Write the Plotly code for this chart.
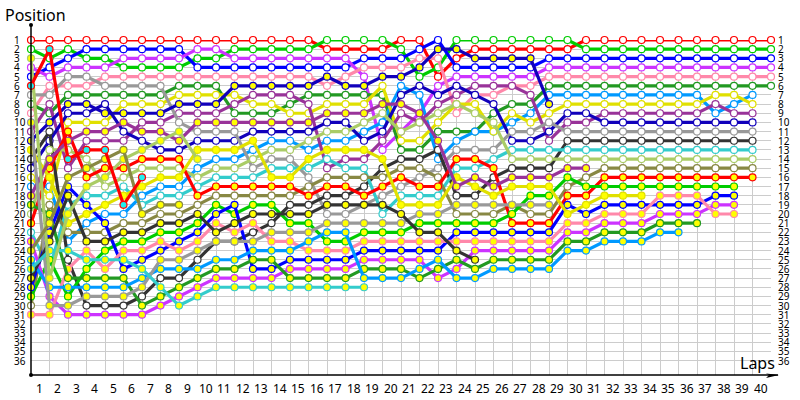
import plotly.graph_objects as go

POSITIONS = list(range(1, 37))
LAP_LABELS = list(range(1, 41))

R = [1,1,1,1,1,1,1,1,1,1,1,1,1,1,1,1,2,2,2,2,1,1,5,3,2,2,2,2,2,2,1,1,1,1,1,1,1,1,1,1,1]
G = [2,3,2,3,3,4,4,4,4,3,3,2,2,2,2,2,1,1,1,1,2,5,4,1,1,1,1,1,1,1,2,2,2,2,2,2,2,2,2,2,2]
B = [5,4,3,2,2,2,2,2,2,4,4,4,4,4,4,4,4,4,3,3,3,2,1,4,4,4,4,4,3,3,3,3,3,3,3,3,3,3,3,3,3]
V = [4,5,4,4,4,3,3,3,3,2,2,3,3,3,3,3,3,3,5,13,11,9,6,5,5,5,5,5,4,4,4,4,4,4,4,4,4,4,4,4,4]
P = [9,6,6,6,5,5,5,5,5,5,5,5,5,5,5,5,6,5,4,4,4,3,3,9,7,7,6,6,5,5,5,5,5,5,5,5,5,5,5,5,5]
F = [8,9,7,7,7,7,7,7,6,6,6,9,9,9,8,7,7,7,7,7,13,13,11,11,11,9,8,8,6,6,6,6,6,6,6,6,6,6,6,6,6]
A = [17,17,23,21,20,20,18,17,17,15,14,14,13,12,12,13,12,12,11,10,6,7,14,12,11,11,10,9,7,7,7,7,7,7,7,7,7,9,8,7]
O = [16,18,10,10,10,8,8,8,7,7,7,7,8,8,9,9,8,8,8,6,12,12,10,8,8,11,9,10,9,8,8,8,8,8,8,8,8,7,7,8]
U = [11,8,15,12,12,12,10,10,9,9,9,8,7,7,7,8,15,14,14,12,9,10,8,7,6,6,6,7,12,10,10,9,9,9,9,9,9,8,9,9]
D = [15,12,9,9,8,11,12,13,13,12,12,12,11,11,11,11,10,10,12,11,7,6,7,6,7,8,12,12,11,9,9,10,10,10,10,10,10,10,10,10]
Y = [7,7,5,5,6,6,6,6,10,11,11,11,15,14,14,16,20,20,19,18,17,16,15,13,13,13,11,11,10,11,11,11,11,11,11,11,11,11,11,11]
K = [14,11,25,30,30,30,29,27,27,25,23,23,22,21,19,19,18,18,17,15,14,14,13,18,18,16,15,15,15,12,12,12,12,12,12,12,12,12,12,12]
T = [22,26,19,18,18,17,19,18,18,17,16,16,16,15,15,15,14,15,15,20,18,18,18,15,15,14,13,13,13,13,13,13,13,13,13,13,13,13,13,13]
L = [20,13,13,14,17,16,15,15,15,16,15,15,14,13,13,12,11,11,10,9,11,10,9,8,9,10,14,14,14,14,14,14,14,14,14,14,14,14,14,14]
M = [30,19,22,22,22,21,21,20,20,19,18,18,18,18,18,17,16,16,16,16,15,15,16,20,20,20,19,20,20,17,16,15,15,15,15,15,15,15,15,15]

R2 = [21,15,11,16,15,15,14,14,14,18,17,17,17,17,17,18,17,17,18,17,16,17,17,14,14,15,21,21,21,18,18,16,16,16,16,16,16,16,16,16]
G2 = [29,25,29,26,24,23,23,22,22,21,19,20,19,19,21,21,23,23,22,22,22,21,21,21,21,21,20,18,18,16,17,17,17,17,17,17,17,17,17]
B2 = [28,22,17,19,21,26,25,24,23,22,20,19,26,26,25,25,25,25,24,24,24,24,24,22,22,22,22,22,22,19,20,19,19,19,19,19,19,18,18]
V2 = [23,29,31,31,31,31,31,30,29,28,27,27,27,27,26,26,26,26,25,25,25,25,27,26,24,24,24,24,24,22,22,21,21,21,20,20,20,19,19]
P2 = [31,31,26,24,26,24,24,23,24,23,21,22,21,23,23,24,24,24,23,23,23,23,23,23,23,23,23,23,23,21,21,20,20,20,18,18,18,20,20]
F2 = [19,20,27,27,27,27,30,29,28,27,26,26,25,25,27,27,27,27,26,26,26,27,26,25,26,25,25,25,25,23,23,22,22,22,21,21,21]
A2 = [25,28,28,28,28,28,27,26,26,26,25,25,24,24,24,23,22,22,27,27,27,26,25,27,27,26,26,26,26,24,24,23,23,23,22,22]
E = [13,16,21,20,19,18,17,16,16,13,13,13,12,16,16,14,13,13,13,14,19,19,19,16,17,18,17,17,17,20,19,18,18,18]
U2 = [18,14,12,11,11,10,11,11,12,10,10,10,10,10,10,10,9,9,9,8,8,9,12,17,16,17,16,16,16,15,15]
D2 = [12,10,8,8,9,9,9,9,8,8,8,6,6,6,6,6,5,6,6,5,5,4,2,2,3,3,3,3,8]
Y2 = [10,30,30,29,29,29,28,25,25,24,23,23,23,22,22,22,21,21,21,21,21,20,20,19,19,19,19,19,19]
K2 = [27,23,18,23,23,22,22,21,21,20,22,21,20,20,20,20,19,19,19,19,20,22,22,24,25]
T2 = [26,24,24,25,25,25,26,28,30,29,28,28,28,28,28,28,28,28,28]
L2 = [3,27,20,17,16,14,13,12,11,14]
M2 = [24,21,16,15,14,13,20,19,19]
R3 = [6,2,14,13,13,19,16]

RED, GREEN, BLUE, VIOLET, PINK = "#ff0000", "#00cc00", "#0000ff", "#cc33ff", "#ff88aa"
FOREST, AZURE, OLIVEY, PURPLE, DARKB = "#229922", "#0099ff", "#e0e000", "#993399", "#1100bb"
GRAY, DARK, TURQ, LOLIVE, BROWN = "#999999", "#333333", "#33cccc", "#aacc66", "#888844"
WHITE, YELLOW, CYAN = "#ffffff", "#ffff00", "#22eeee"

SERIES = [
    ("R", R, RED, WHITE), ("G", G, GREEN, WHITE), ("B", B, BLUE, WHITE), ("V", V, VIOLET, WHITE),
    ("P", P, PINK, WHITE), ("F", F, FOREST, WHITE), ("A", A, AZURE, WHITE), ("O", O, OLIVEY, WHITE),
    ("U", U, PURPLE, WHITE), ("D", D, DARKB, WHITE), ("Y", Y, GRAY, WHITE), ("K", K, DARK, WHITE),
    ("T", T, TURQ, WHITE), ("L", L, LOLIVE, WHITE), ("M", M, BROWN, WHITE),
    ("R2", R2, RED, YELLOW), ("G2", G2, GREEN, YELLOW), ("B2", B2, BLUE, YELLOW), ("V2", V2, VIOLET, YELLOW),
    ("P2", P2, PINK, YELLOW), ("F2", F2, FOREST, YELLOW), ("A2", A2, AZURE, YELLOW), ("E", E, OLIVEY, YELLOW),
    ("U2", U2, PURPLE, YELLOW), ("D2", D2, DARKB, YELLOW), ("Y2", Y2, GRAY, YELLOW), ("K2", K2, DARK, YELLOW),
    ("T2", T2, TURQ, YELLOW), ("L2", L2, LOLIVE, YELLOW), ("M2", M2, BROWN, YELLOW),
    ("R3", R3, RED, CYAN),
]

W, H = 800, 400
LEFT, TOP, PLOT_W, PLOT_H = 31, 40, 740, 335
ROW = 9.157
FONT = "Noto Sans"


def px(x):
    return (x - LEFT) / PLOT_W


def py(y):
    return (TOP + PLOT_H - y) / PLOT_H


fig = go.Figure()
for name, values, color, fill in SERIES:
    fig.add_trace(go.Scatter(
        x=list(range(len(values))), y=values, name=name, mode="lines+markers", cliponaxis=False,
        line=dict(color=color, width=3.2),
        marker=dict(size=7, color=fill, line=dict(color=color, width=1.2)),
        hoverinfo="skip", showlegend=False,
    ))

notes = []
for p in POSITIONS:
    notes.append(dict(x=px(12), xref="paper", y=p, yref="y", text=str(p), showarrow=False,
                      xanchor="left", font=dict(family=FONT, size=10, color="#000000")))
    notes.append(dict(x=px(776), xref="paper", y=p, yref="y", text=str(p), showarrow=False,
                      xanchor="left", font=dict(family=FONT, size=10, color="#000000")))
for lap in LAP_LABELS:
    notes.append(dict(x=lap - 0.55, xref="x", y=py(388), yref="paper", text=str(lap), showarrow=False,
                      xanchor="center", yanchor="middle", font=dict(family=FONT, size=12, color="#000000")))
notes.append(dict(x=px(3), xref="paper", y=py(15), yref="paper", text="Position", showarrow=False,
                  xanchor="left", yanchor="middle", font=dict(family=FONT, size=16, color="#000000")))
notes.append(dict(x=px(777), xref="paper", y=py(363), yref="paper", text="Laps", showarrow=False,
                  xanchor="right", yanchor="middle", font=dict(family=FONT, size=16, color="#000000")))


def segment(x0, y0, x1, y1):
    return dict(type="line", xref="paper", yref="paper", x0=px(x0), y0=py(y0), x1=px(x1), y1=py(y1),
                line=dict(color="#000000", width=1.5), layer="above")


def dot(x, y, r=2):
    return dict(type="circle", xref="paper", yref="paper", x0=px(x - r), x1=px(x + r), y0=py(y - r), y1=py(y + r),
                fillcolor="#000000", line=dict(width=0), layer="above")


arrow = "M {} {} L {} {} L {} {} L {} {} Z".format(px(766), py(373.5), px(779), py(375), px(766), py(378), px(769), py(375))
shapes = [
    segment(31, 25, 31, 375),
    segment(31, 375, 778, 375),
    dot(31, 25), dot(31, 375),
    dict(type="path", xref="paper", yref="paper", path=arrow, fillcolor="#000000", line=dict(width=0), layer="above"),
]

fig.update_layout(
    width=W, height=H, autosize=False, paper_bgcolor="#ffffff", plot_bgcolor="#ffffff",
    margin=dict(l=LEFT, r=W - LEFT - PLOT_W, t=TOP, b=H - TOP - PLOT_H, pad=0),
    xaxis=dict(range=[0, 40], tickvals=list(range(0, 41)), showticklabels=False, ticks="",
               showgrid=True, gridcolor="#cccccc", gridwidth=1, zeroline=False, showline=False),
    yaxis=dict(range=[1 + PLOT_H / ROW, 1], tickvals=POSITIONS, showticklabels=False, ticks="",
               showgrid=True, gridcolor="#cccccc", gridwidth=1, zeroline=False, showline=False),
    annotations=notes, shapes=shapes, showlegend=False,
)
fig.write_html("out.html", config={"displayModeBar": False},
               post_script="document.body.style.margin='0';document.documentElement.style.overflow='hidden';")
